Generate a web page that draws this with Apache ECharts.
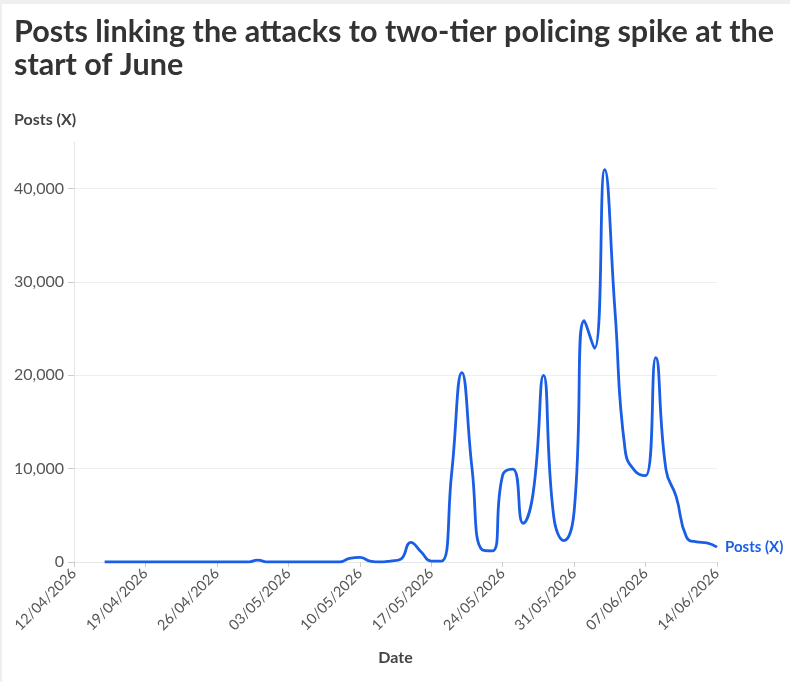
<!DOCTYPE html>
<html>
<head>
<meta charset="utf-8">
<script src="https://cdn.jsdelivr.net/npm/echarts@6/dist/echarts.min.js"></script>
<style>
  html, body { margin: 0; padding: 0; background: #efefef; }
  #chart { position: absolute; left: 2px; top: 4px; width: 788px; height: 678px; background: #fff; }
</style>
</head>
<body>
<div id="chart"></div>
<script>
// daily dates on the x axis
const dates = [
  '12/04/2026', '13/04/2026', '14/04/2026', '15/04/2026', '16/04/2026', '17/04/2026', '18/04/2026',
  '19/04/2026', '20/04/2026', '21/04/2026', '22/04/2026', '23/04/2026', '24/04/2026', '25/04/2026',
  '26/04/2026', '27/04/2026', '28/04/2026', '29/04/2026', '30/04/2026', '01/05/2026', '02/05/2026',
  '03/05/2026', '04/05/2026', '05/05/2026', '06/05/2026', '07/05/2026', '08/05/2026', '09/05/2026',
  '10/05/2026', '11/05/2026', '12/05/2026', '13/05/2026', '14/05/2026', '15/05/2026', '16/05/2026',
  '17/05/2026', '18/05/2026', '19/05/2026', '20/05/2026', '21/05/2026', '22/05/2026', '23/05/2026',
  '24/05/2026', '25/05/2026', '26/05/2026', '27/05/2026', '28/05/2026', '29/05/2026', '30/05/2026',
  '31/05/2026', '01/06/2026', '02/06/2026', '03/06/2026', '04/06/2026', '05/06/2026', '06/06/2026',
  '07/06/2026', '08/06/2026', '09/06/2026', '10/06/2026', '11/06/2026', '12/06/2026', '13/06/2026',
  '14/06/2026'
];

// posts per day (no data before 15/04)
const posts = [
  null, null, null, 0, 0, 0, 0,
  0, 0, 0, 0, 0, 0, 0,
  0, 0, 0, 0, 200, 0, 0,
  0, 0, 0, 0, 0, 0, 400,
  500, 100, 0, 100, 300, 2100, 1100,
  100, 100, 9500, 20300, 10000, 1300, 1200,
  9300, 9950, 4150, 7500, 20000, 4900, 2300,
  5400, 25850, 22900, 42050, 27000, 12000, 9700,
  9250, 21900, 9900, 7000, 2700, 2150, 2050,
  1600
];

const yTicks = [0, 10000, 20000, 30000, 40000];

const font = 'Lato';
const chart = echarts.init(document.getElementById('chart'));

chart.setOption({
  animation: false,
  title: [
    {
      text: 'Posts linking the attacks to two-tier policing spike at the\nstart of June',
      left: 7, top: 7,
      textStyle: { fontFamily: font, fontSize: 30.5, fontWeight: 'bold', color: '#333', lineHeight: 33 }
    },
    {
      text: 'Posts (X)',
      left: 7, top: 103,
      textStyle: { fontFamily: font, fontSize: 16, fontWeight: 'bold', color: '#444' }
    }
  ],
  grid: { left: 72, right: 73, top: 138, bottom: 120 },
  xAxis: {
    type: 'category',
    data: dates,
    boundaryGap: false,
    name: 'Date',
    nameLocation: 'middle',
    nameGap: 88,
    nameTextStyle: { fontFamily: font, fontSize: 16, fontWeight: 'bold', color: '#444' },
    axisLine: { lineStyle: { color: '#e6e6e6' } },
    axisTick: { show: true, interval: 6, length: 5, lineStyle: { color: '#ccc' } },
    axisLabel: {
      interval: 6, rotate: 45, margin: 9,
      fontFamily: font, fontSize: 14.5, color: '#555'
    },
    splitLine: { show: false }
  },
  yAxis: {
    type: 'value',
    min: 0, max: 45000, interval: 10000,
    axisLine: { show: true, lineStyle: { color: '#e6e6e6' } },
    axisTick: { show: true, length: 6, lineStyle: { color: '#ccc' } },
    axisLabel: {
      showMaxLabel: false, margin: 10,
      fontFamily: font, fontSize: 16, color: '#555',
      formatter: v => yTicks.includes(v) ? v.toLocaleString('en-GB') : ''
    },
    splitLine: { showMaxLine: false, lineStyle: { color: '#eeeeee' } }
  },
  series: [{
    name: 'Posts (X)',
    type: 'line',
    data: posts,
    smooth: 0.5,
    showSymbol: false,
    lineStyle: { color: '#1a5ee6', width: 2.8 },
    itemStyle: { color: '#1a5ee6' },
    endLabel: {
      show: true,
      formatter: '{a}',
      distance: 8,
      fontFamily: font, fontSize: 15, fontWeight: 'bold', color: '#1a5ee6'
    }
  }]
});
</script>
</body>
</html>
